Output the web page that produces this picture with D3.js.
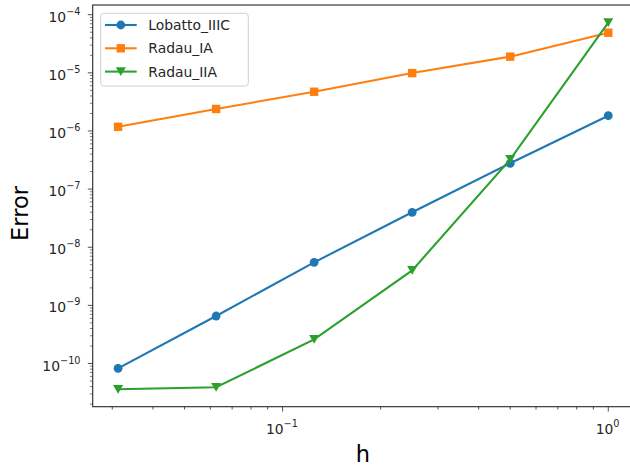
<!DOCTYPE html>
<html><head><meta charset="utf-8">
<script src="https://cdn.jsdelivr.net/npm/d3@7"></script>
<style>body{margin:0;background:#fff}svg{display:block}</style>
</head><body>
<svg id="c" width="630" height="472"></svg>
<script>
const hValues = [1, 0.5, 0.25, 0.125, 0.0625, 0.03125];
const lobatto = [1.83e-6, 2.78e-7, 3.99e-8, 5.5e-9, 6.56e-10, 8.26e-11];
const radauIA = [4.9e-5, 1.9e-5, 9.9e-6, 4.73e-6, 2.39e-6, 1.18e-6];
const radauIIA = [7.28e-5, 3.25e-7, 4.0e-9, 2.6e-10, 3.9e-11, 3.6e-11];
const seriesNames = ["Lobatto_IIIC", "Radau_IA", "Radau_IIA"];
const colors = ["#1f77b4", "#ff7f0e", "#2ca02c"];
const markers = ["circle", "square", "tridown"];
const xTickExps = [-1, 0];
const yTickExps = [-10, -9, -8, -7, -6, -5, -4];

const svg = d3.select("#c");
const L = 92.7, R = 632.8, T = 5, B = 406.7;
const x = d3.scaleLog().domain([Math.pow(10, -1.583), Math.pow(10, 0.0753)]).range([L, R]);
const y = d3.scaleLog().domain([Math.pow(10, -10.743), Math.pow(10, -3.833)]).range([B, T]);
const font = "DejaVu Sans, sans-serif";
const ink = "#262626";

// minor ticks
const [xd0, xd1] = x.domain();
for (let e = -2; e <= 0; e++) for (let m = 2; m <= 9; m++) {
  const v = m * Math.pow(10, e);
  if (v >= xd0 && v <= xd1) svg.append("line").attr("x1", x(v)).attr("x2", x(v)).attr("y1", B).attr("y2", B + 2.8).attr("stroke", ink).attr("stroke-width", 0.8);
}
const [yd0, yd1] = y.domain();
for (let e = -11; e <= -4; e++) for (let m = 2; m <= 9; m++) {
  const v = m * Math.pow(10, e);
  if (v >= yd0 && v <= yd1) svg.append("line").attr("x1", L - 2.8).attr("x2", L).attr("y1", y(v)).attr("y2", y(v)).attr("stroke", ink).attr("stroke-width", 0.6);
}
// major ticks + labels
function supLabel(g, exp) {
  g.append("tspan").text("10");
  g.append("tspan").attr("dy", -7).attr("font-size", 9.7).text(exp < 0 ? "\u2212" + (-exp) : String(exp));
}
xTickExps.forEach(e => {
  const v = Math.pow(10, e);
  svg.append("line").attr("x1", x(v)).attr("x2", x(v)).attr("y1", B).attr("y2", B + 4.9).attr("stroke", ink).attr("stroke-width", 0.8);
  const t = svg.append("text").attr("x", x(v) - 0.7).attr("y", 434.3).attr("text-anchor", "middle").attr("font-family", font).attr("font-size", 13.9).attr("fill", ink);
  supLabel(t, e);
});
yTickExps.forEach(e => {
  const v = Math.pow(10, e);
  svg.append("line").attr("x1", L - 4.9).attr("x2", L).attr("y1", y(v)).attr("y2", y(v)).attr("stroke", ink).attr("stroke-width", 0.8);
  const t = svg.append("text").attr("x", 80.5).attr("y", y(v) + 7).attr("text-anchor", "end").attr("font-family", font).attr("font-size", 13.9).attr("fill", ink);
  supLabel(t, e);
});

// data
const all = [lobatto, radauIA, radauIIA];
const line = d3.line().x(d => x(d[0])).y(d => y(d[1]));
const gData = svg.append("g");
function drawMarker(g, type, cx, cy, color) {
  if (type === "circle") g.append("circle").attr("cx", cx).attr("cy", cy).attr("r", 4.4).attr("fill", color);
  else if (type === "square") g.append("rect").attr("x", cx - 4.2).attr("y", cy - 4.2).attr("width", 8.4).attr("height", 8.4).attr("fill", color);
  else g.append("path").attr("d", `M${cx - 5},${cy - 4.4}L${cx + 5},${cy - 4.4}L${cx},${cy + 4.4}Z`).attr("fill", color);
}
all.forEach((vals, i) => {
  const pts = hValues.map((h, j) => [h, vals[j]]);
  gData.append("path").attr("d", line(pts)).attr("fill", "none").attr("stroke", colors[i]).attr("stroke-width", 2.08);
  pts.forEach(p => drawMarker(gData, markers[i], x(p[0]), y(p[1]), colors[i]));
});

// spines
svg.append("rect").attr("x", L).attr("y", T).attr("width", R - L).attr("height", B - T).attr("fill", "none").attr("stroke", ink).attr("stroke-width", 1.1);

// axis labels
svg.append("text").attr("x", 363).attr("y", 461.7).attr("text-anchor", "middle").attr("font-family", font).attr("font-size", 22.5).attr("fill", "#000").text("h");
svg.append("text").attr("transform", `translate(28,213.5) rotate(-90)`).attr("text-anchor", "middle").attr("font-family", font).attr("font-size", 22.5).attr("fill", "#000").text("Error");

// legend
const lg = svg.append("g");
lg.append("rect").attr("x", 100.7).attr("y", 13.3).attr("width", 147.6).attr("height", 72.7).attr("rx", 3).attr("fill", "#fff").attr("fill-opacity", 0.8).attr("stroke", "#d0d0d0").attr("stroke-width", 1);
seriesNames.forEach((n, i) => {
  const yy = 25 + i * 23.3;
  lg.append("line").attr("x1", 105).attr("x2", 136.7).attr("y1", yy).attr("y2", yy).attr("stroke", colors[i]).attr("stroke-width", 2.08);
  drawMarker(lg, markers[i], 120.8, yy, colors[i]);
  lg.append("text").attr("x", 148.3).attr("y", yy + 5).attr("font-family", font).attr("font-size", 13.9).attr("fill", ink).text(n);
});
</script>
</body></html>
